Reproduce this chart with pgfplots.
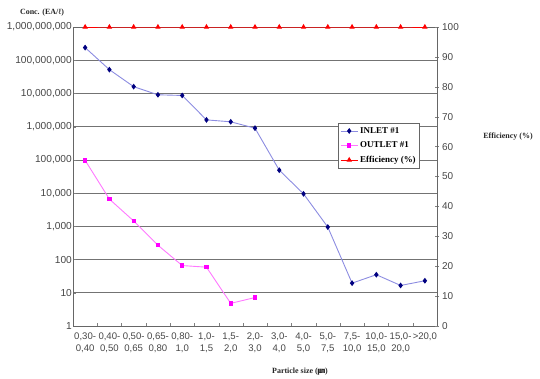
\documentclass[border=0pt]{standalone}
\usepackage{pgfplots}
\pgfplotsset{compat=1.18}
\usepackage{fontspec}
\setmainfont{Liberation Sans}
\newfontfamily\serifb{Liberation Serif}
\newfontfamily\cjk{Noto Sans CJK KR}
\definecolor{inletline}{RGB}{140,140,225}
\definecolor{inletmark}{RGB}{0,0,128}
\definecolor{outline}{RGB}{255,120,255}
\definecolor{outmark}{RGB}{255,0,255}
\definecolor{effred}{RGB}{255,0,0}
\definecolor{tickgray}{RGB}{70,70,70}
\begin{document}
\begin{tikzpicture}
\path[use as bounding box] (0,0) rectangle (540bp,379bp);
\begin{axis}[
  at={(73bp,53bp)}, anchor=south west,
  scale only axis, width=364bp, height=299bp,
  ymode=log, ymin=1, ymax=1e9,
  xmin=-0.5, xmax=14.5,
  ytick={1,10,100,1000,10000,100000,1000000,10000000,100000000,1000000000},
  yticklabels={1,10,100,{1,000},{10,000},{100,000},{1,000,000},{10,000,000},{100,000,000},{1,000,000,000}},
  yminorticks=false,
  ymajorgrids, grid style={draw=black!55, line width=0.7pt},
  ytick pos=left, xtick pos=bottom,
  tick align=inside,
  xtick={0,...,14},
  xticklabels={{0,30-\\0,40},{0,40-\\0,50},{0,50-\\0,65},{0,65-\\0,80},{0,80-\\1,0},{1,0-\\1,5},{1,5-\\2,0},{2,0-\\3,0},{3,0-\\4,0},{4,0-\\5,0},{5,0-\\7,5},{7,5-\\10,0},{10,0-\\15,0},{15,0-\\20,0},{>20,0}},
  major x tick style={draw=none},
  minor xtick={0.5,1.5,...,13.5},
  minor tick length=3bp,
  major tick length=3bp,
  xticklabel style={align=center, font=\fontsize{9.6}{12}\selectfont, text=tickgray, inner sep=1pt, yshift=-6bp},
  yticklabel style={font=\fontsize{10.2}{11}\selectfont, text=tickgray, inner sep=1pt},
  axis line style={draw=black!60, line width=0.8pt},
  /pgf/number format/assume math mode=true,
  clip=false,
]
\addplot[color=inletline, line width=0.9pt, mark=diamond*, mark size=2.2pt, mark options={draw=inletmark, fill=inletmark}] coordinates {
(0,2.4e8) (1,5.2e7) (2,1.6e7) (3,9.1e6) (4,8.7e6) (5,1.6e6) (6,1.4e6) (7,9e5) (8,4.9e4) (9,9.5e3) (10,950) (11,19.5) (12,35) (13,16.6) (14,23)
};
\addplot[color=outline, line width=0.9pt, mark=square*, mark size=1.7pt, mark options={draw=outmark, fill=outmark}] coordinates {
(0,9.7e4) (1,6600) (2,1450) (3,270) (4,66) (5,59) (6,4.8) (7,7.2)
};
\end{axis}
\begin{axis}[
  at={(73bp,53bp)}, anchor=south west,
  scale only axis, width=364bp, height=299bp,
  ymin=0, ymax=100, ytick={0,10,...,100},
  xmin=-0.5, xmax=14.5,
  axis y line*=right, axis x line=none,
  tick align=center, major tick length=4bp,
  yticklabel style={font=\fontsize{10}{11}\selectfont, text=tickgray, inner sep=1pt, xshift=2bp},
  axis line style={draw=black!60, line width=0.8pt},
  /pgf/number format/assume math mode=true,
  clip=false,
  legend style={at={(rel axis cs:0.728,0.679)}, anchor=north west, draw=black!60, line width=0.6pt,
    font=\serifb\bfseries\fontsize{9}{10}\selectfont, inner sep=2pt, row sep=3pt, legend cell align=left},
]
\addlegendimage{color=inletline, line width=0.9pt, mark=diamond*, mark size=2.2pt, mark options={draw=inletmark, fill=inletmark}}
\addlegendentry{INLET \#1}
\addlegendimage{color=outline, line width=0.9pt, mark=square*, mark size=1.7pt, mark options={draw=outmark, fill=outmark}}
\addlegendentry{OUTLET \#1}
\addplot[color=effred, line width=0.9pt, mark=triangle*, mark size=2.2pt, mark options={draw=effred, fill=effred}] coordinates {
(0,100) (1,100) (2,100) (3,100) (4,100) (5,100) (6,100) (7,100) (8,100) (9,100) (10,100) (11,100) (12,100) (13,100) (14,100)
};
\addlegendentry{Efficiency (\%)}
\end{axis}
\node[font=\serifb\bfseries\fontsize{8}{9}\selectfont, text=black!85] at (42bp,366bp) {Conc. (EA/ℓ)};
\node[font=\serifb\bfseries\fontsize{8}{9}\selectfont, text=black!85] at (508bp,242bp) {Efficiency (\%)};
\node[font=\serifb\bfseries\fontsize{8}{9}\selectfont, text=black!85] at (300bp,7bp) {Particle size ({\cjk\fontsize{7.5}{9}\selectfont ㎛})};
\end{tikzpicture}
\end{document}
